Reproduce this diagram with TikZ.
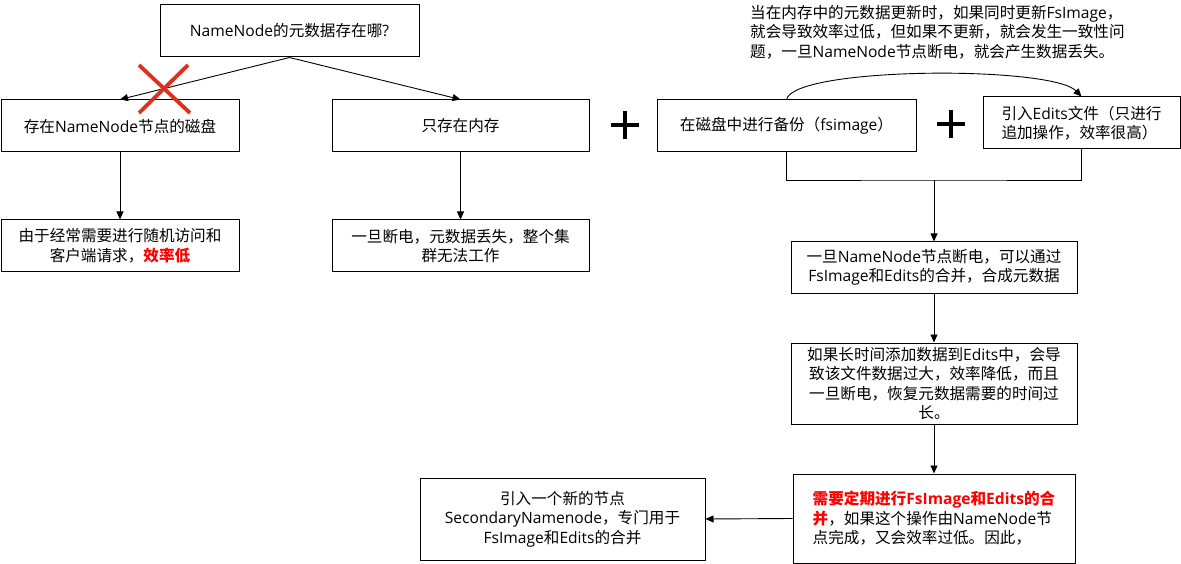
\documentclass[tikz,border=0pt]{standalone}
\usepackage{fontspec}
\setmainfont{Noto Sans CJK SC}
\newfontfamily\enfont{Open Sans}
\newcommand\enw[1]{{\enfont #1}}
\usetikzlibrary{arrows.meta}
\definecolor{xred}{RGB}{222,48,30}
\tikzset{
  box/.style={draw, line width=1pt, inner sep=0pt, align=center, font=\fontsize{15.6}{19.5}\selectfont},
  arr/.style={line width=0.9pt, -{Triangle[length=8pt,width=7pt]}},
  conn/.style={line width=0.9pt},
  plusmark/.style={line width=3.6pt},
  cross/.style={xred, line width=3.8pt},
}
\begin{document}
\begin{tikzpicture}[x=1pt,y=-1pt]
\useasboundingbox[fill=white] (0,0) rectangle (1181,564);
% nodes
\node[box, minimum width=259pt, minimum height=52pt] (q) at (289.5,31) {\enw{NameNode}的元数据存在哪\enw{?}};
\node[box, minimum width=238pt, minimum height=52pt] (disk) at (120,126) {存在\enw{NameNode}节点的磁盘};
\node[box, minimum width=257pt, minimum height=52pt] (mem) at (460.5,126) {只存在内存};
\node[box, minimum width=238pt, minimum height=52pt] (diskr) at (120,246) {由于经常需要进行随机访问和\\客户端请求，\textcolor{red}{\bfseries 效率低}};
\node[box, minimum width=257pt, minimum height=52pt] (memr) at (460.5,246) {一旦断电，元数据丢失，整个集\\群无法工作};
\node[box, minimum width=259pt, minimum height=52pt] (fs) at (786.5,126) {在磁盘中进行备份（\enw{fsimage}）};
\node[box, minimum width=197pt, minimum height=52pt, align=left] (ed) at (1081.5,123) {引入\enw{Edits}文件（只进行\\追加操作，效率很高）};
\node[box, minimum width=286pt, minimum height=51pt] (b1) at (934,267.5) {一旦\enw{NameNode}节点断电，可以通过\\\enw{FsImage}和\enw{Edits}的合并，合成元数据};
\node[box, minimum width=286pt, minimum height=81pt] (b2) at (934,383.5) {如果长时间添加数据到\enw{Edits}中，会导\\致该文件数据过大，效率降低，而且\\一旦断电，恢复元数据需要的时间过\\长。};
\node[box, minimum width=282pt, minimum height=89pt, align=left] (b3) at (934,518.5) {\textcolor{red}{\bfseries 需要定期进行\enw{FsImage}和\enw{Edits}的合}\\\textcolor{red}{\bfseries 并}，如果这个操作由\enw{NameNode}节\\点完成，又会效率过低。因此，};
\node[box, minimum width=285pt, minimum height=82pt] (sec) at (562.5,519) {引入一个新的节点\\\enw{SecondaryNamenode}，专门用于\\\enw{FsImage}和\enw{Edits}的合并};
\node[inner sep=0pt, anchor=north west, align=left, font=\fontsize{15.6}{19.5}\selectfont] (note) at (750,5) {当在内存中的元数据更新时，如果同时更新\enw{FsImage}，\\就会导致效率过低，但如果不更新，就会发生一致性问\\题，一旦\enw{NameNode}节点断电，就会产生数据丢失。};
% connectors
\draw[arr] (q.south) -- (disk.north);
\draw[arr] (q.south) -- (mem.north);
\draw[arr] (disk.south) -- (diskr.north);
\draw[arr] (mem.south) -- (memr.north);
\draw[arr] (fs.north) .. controls +(8,-33) and +(-30,-31) .. (ed.north);
\coordinate (m) at (934,180);
\draw[conn] (fs.south) |- (m) -| (ed.south);
\draw[arr] (m) -- (b1.north);
\draw[arr] (b1.south) -- (b2.north);
\draw[arr] (b2.south) -- (b3.north);
\draw[arr] (b3.west) -- (sec.east);
% plus signs
\draw[plusmark] (611,125) -- (639,125) (625,111) -- (625,139);
\draw[plusmark] (937,124) -- (965,124) (951,110) -- (951,138);
% red cross
\draw[cross] (139,65) -- (190,113) (188,65) -- (139,113);
\end{tikzpicture}
\end{document}
